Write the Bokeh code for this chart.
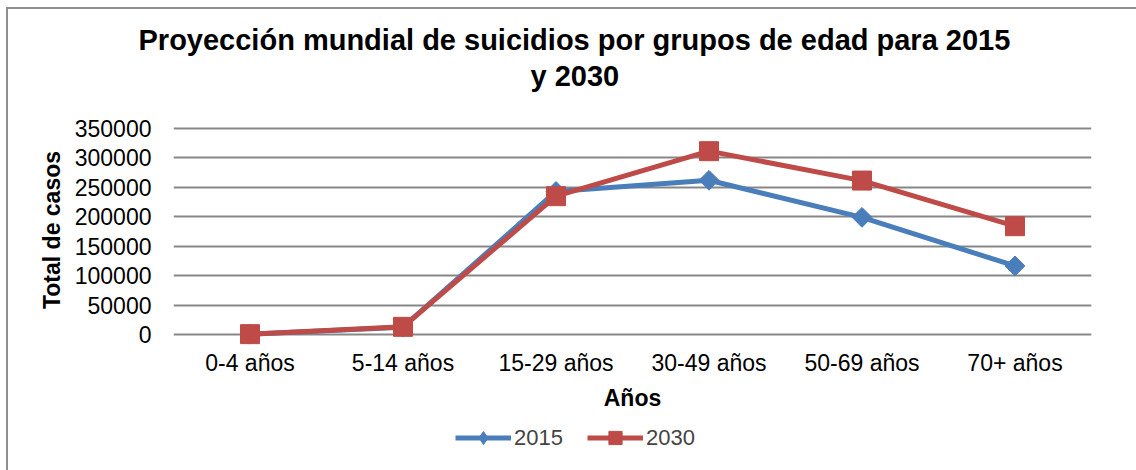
from bokeh.plotting import figure
from bokeh.layouts import column
from bokeh.models import (Range1d, FactorRange, FixedTicker, Legend, LegendItem,
                          NumeralTickFormatter, Title)
from bokeh.embed import file_html
from bokeh.resources import INLINE
import math

categories = ["0-4 años", "5-14 años", "15-29 años", "30-49 años", "50-69 años", "70+ años"]
values_2015 = [500, 12500, 243000, 262000, 199000, 116500]
values_2030 = [600, 13000, 235000, 311500, 261500, 184000]
y_ticks = [0, 50000, 100000, 150000, 200000, 250000, 300000, 350000]
title_lines = ["Proyección mundial de suicidios por grupos de edad para 2015", "y 2030"]
series_names = ["2015", "2030"]

BLUE = "#4A7EBB"
RED = "#BE4B48"
GRID = "#878787"
FONT = "Liberation Sans"


def draw_series(fig, legend_strip=False):
    l1 = fig.line(categories, values_2015, line_color=BLUE, line_width=5)
    if legend_strip:
        m1 = fig.scatter(categories, values_2015, marker="diamond", size=20,
                         fill_color=BLUE, line_color=BLUE)
    else:
        m1 = fig.scatter(categories, values_2015, marker="square", angle=math.pi / 4, size=14,
                         fill_color=BLUE, line_color=BLUE)
    l2 = fig.line(categories, values_2030, line_color=RED, line_width=5)
    m2 = fig.scatter(categories, values_2030, marker="square", size=19,
                     fill_color=RED, line_color=RED)
    return [l1, m1], [l2, m2]


px_per_unit = 206 / 350000
pad_top = 15 / px_per_unit
pad_bottom = 12 / px_per_unit
p = figure(width=1128, height=411, x_range=FactorRange(*categories, range_padding=0),
           y_range=Range1d(-pad_bottom, 350000 + pad_top),
           output_backend="svg", toolbar_location=None,
           min_border_left=165, min_border_right=45, min_border_top=104, min_border_bottom=74)
p.outline_line_color = None
p.background_fill_color = "white"
p.border_fill_color = "white"

p.xgrid.grid_line_color = None
p.ygrid.grid_line_color = GRID
p.ygrid.grid_line_width = 2
p.yaxis.ticker = FixedTicker(ticks=y_ticks)
p.yaxis.formatter = NumeralTickFormatter(format="0")
for ax in (p.xaxis[0], p.yaxis[0]):
    ax.axis_line_color = None
    ax.major_tick_line_color = None
    ax.minor_tick_line_color = None
    ax.major_tick_out = 0
    ax.major_tick_in = 0
    ax.minor_tick_out = 0
    ax.minor_tick_in = 0
    ax.major_label_text_font = FONT
    ax.major_label_text_font_size = "23px"
    ax.major_label_text_color = "black"
    ax.axis_label_text_font = FONT
    ax.axis_label_text_font_size = "23px"
    ax.axis_label_text_font_style = "bold"
    ax.axis_label_text_color = "black"
p.yaxis.major_label_standoff = 22
p.xaxis.major_label_standoff = 3
p.yaxis.axis_label = "Total de casos"
p.yaxis.axis_label_standoff = 7
p.xaxis.axis_label = "Años"
p.xaxis.axis_label_standoff = 6

draw_series(p)

spacer = Title(text=" ", text_font_size="2px", standoff=16)
t2 = Title(text=title_lines[1], align="left", offset=357, text_font=FONT,
           text_font_size="29px", text_font_style="bold", text_color="black", standoff=4)
t1 = Title(text=title_lines[0], align="left", offset=-35, text_font=FONT,
           text_font_size="29px", text_font_style="bold", text_color="black", standoff=0)
p.add_layout(spacer, "above")
p.add_layout(t2, "above")
p.add_layout(t1, "above")

# legend row: same series drawn on a strip whose value range lies far away (so only the legend shows)
p2 = figure(width=1128, height=50, x_range=FactorRange(*categories, range_padding=0),
            y_range=Range1d(-3e6, -2e6), output_backend="svg", toolbar_location=None,
            min_border=0)
p2.axis.visible = False
p2.grid.visible = False
p2.outline_line_color = None
p2.background_fill_color = "white"
p2.border_fill_color = "white"
r2015, r2030 = draw_series(p2, legend_strip=True)
legend = Legend(items=[LegendItem(label=series_names[0], renderers=r2015),
                       LegendItem(label=series_names[1], renderers=r2030)],
                orientation="horizontal", location=(282, 16),
                glyph_width=56, glyph_height=33, label_text_font=FONT,
                label_text_font_size="22px", label_standoff=3, spacing=24,
                border_line_color=None, background_fill_alpha=0, padding=0, margin=0)
p2.add_layout(legend, "center")

layout = column(p, p2, spacing=0,
                styles={"margin-left": "6px", "margin-top": "7px",
                        "border-top": "2px solid #8f8f8f", "border-left": "2px solid #8f8f8f"})

open("out.html", "w").write(file_html(layout, INLINE))
